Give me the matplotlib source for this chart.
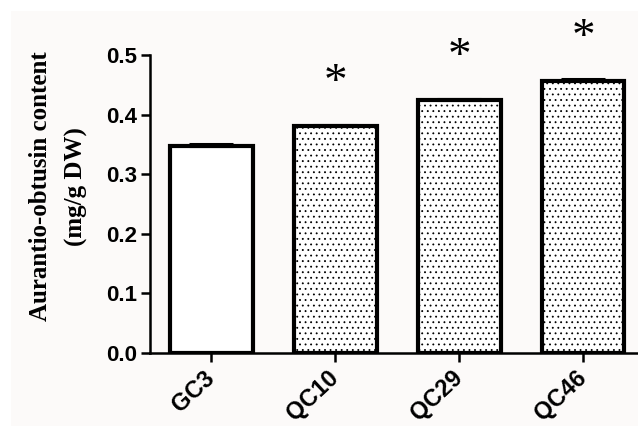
import matplotlib
matplotlib.use("Agg")
import matplotlib.pyplot as plt
from matplotlib.patches import Rectangle
import numpy as np

# ---- data ----
categories = ["GC3", "QC10", "QC29", "QC46"]
values = [0.348, 0.381, 0.425, 0.457]
errors = [0.002, 0.002, 0.002, 0.003]
significance = ["", "*", "*", "*"]
hatches = ["", "...", "...", "..."]
y_ticks = [0.0, 0.1, 0.2, 0.3, 0.4, 0.5]
y_label = "Aurantio-obtusin content\n(mg/g DW)"

plt.rcParams["hatch.linewidth"] = 0.6
plt.rcParams["hatch.color"] = "#222222"

W, H = 638, 426
fig = plt.figure(figsize=(W / 100, H / 100), dpi=100)
fig.patch.set_facecolor("white")
# off-white picture background
bg = Rectangle((11 / W, 0), 1 - 11 / W, 1 - 11 / H,
               transform=fig.transFigure, facecolor="#fcfaf9",
               edgecolor="none", zorder=-10)
fig.add_artist(bg)

ax = fig.add_axes([150 / W, 1 - 353 / H, 488 / W, (353 - 55) / H])
ax.set_facecolor("none")

x = np.arange(len(categories))
bars = ax.bar(x, values, width=0.662, color="white", edgecolor="black",
              linewidth=3, zorder=2)
for b, h in zip(bars, hatches):
    b.set_hatch(h)

ax.errorbar(x, values, yerr=[np.zeros(len(errors)), errors], fmt="none",
            ecolor="black", elinewidth=2, capsize=15.5, capthick=2.2, zorder=3)

for xi, v, s in zip(x, values, significance):
    if s:
        ax.text(xi, v + 0.071, s, ha="center", va="center", fontsize=34,
                family="Liberation Serif", clip_on=False, zorder=4)

ax.set_xlim(-0.496, 3.44)
ax.set_ylim(0, 0.5)
ax.set_yticks(y_ticks)
ax.set_yticklabels([f"{t:.1f}" for t in y_ticks])
ax.set_xticks(x)
ax.set_xticklabels(categories, rotation=43, ha="right", va="center",
                   rotation_mode="anchor")

for lab in ax.get_yticklabels():
    lab.set_fontsize(16)
    lab.set_fontweight("bold")
    lab.set_family("Liberation Sans")
for lab in ax.get_xticklabels():
    lab.set_fontsize(17)
    lab.set_fontweight("bold")
    lab.set_family("Liberation Sans")

ax.spines["top"].set_visible(False)
ax.spines["right"].set_visible(False)
ax.spines["left"].set_linewidth(1.8)
ax.spines["bottom"].set_linewidth(1.8)
ax.tick_params(axis="both", width=1.8, length=6.5, direction="out", color="black")
ax.tick_params(axis="y", pad=3)
ax.tick_params(axis="x", pad=9)

ax.set_ylabel(y_label, fontsize=18, fontweight="bold", family="Liberation Serif",
              linespacing=1.65)
ax.yaxis.set_label_coords(-0.128, 0.56)

fig.savefig("out.png", dpi=100, facecolor=fig.get_facecolor())
